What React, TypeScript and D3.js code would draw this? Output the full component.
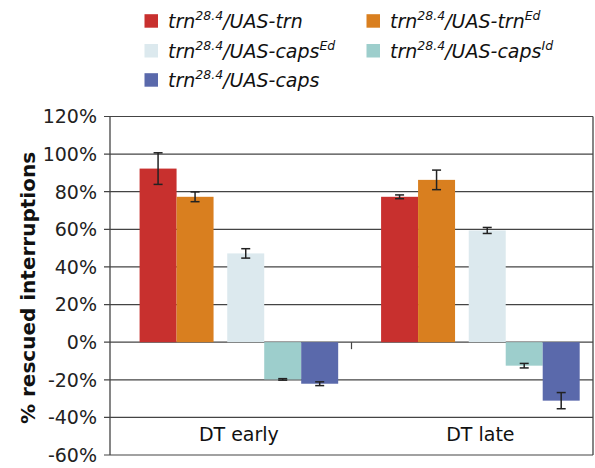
import { useEffect } from "react"
import * as d3 from "d3"

const categories = ["DT early", "DT late"]
const seriesNames = ["UAS-trn", "UAS-trnEd", "UAS-capsEd", "UAS-capsId", "UAS-caps"]
const seriesColors = ["#c8302e", "#d97f1f", "#dce9ee", "#9dcecc", "#5a69ab"]
const valTrn = [92.3, 77.3]
const valTrnEd = [77.3, 86.3]
const valCapsEd = [47.2, 59.4]
const valCapsId = [-19.8, -12.5]
const valCaps = [-22.1, -31.1]
const errTrn = [8.4, 1.0]
const errTrnEd = [2.6, 5.2]
const errCapsEd = [2.5, 1.6]
const errCapsId = [0.4, 1.2]
const errCaps = [1.0, 4.3]
const yTicks = [-60, -40, -20, 0, 20, 40, 60, 80, 100, 120]

// legend text pieces: base name + superscript
const legendLabels = [
  { name: "trn", sup: "" },
  { name: "trn", sup: "Ed" },
  { name: "caps", sup: "Ed" },
  { name: "caps", sup: "Id" },
  { name: "caps", sup: "" },
]

const values = [valTrn, valTrnEd, valCapsEd, valCapsId, valCaps]
const errors = [errTrn, errTrnEd, errCapsEd, errCapsId, errCaps]

export default function App() {
  useEffect(() => {
    document.body.style.margin = "0"
  }, [])

  const width = 595
  const height = 468
  const left = 110
  const right = 593

  const x0 = d3.scaleBand().domain(categories).range([left, right]).padding(0)
  // bar slots inside a group, in bar-width units (gap between 2nd and 3rd)
  const slots = [0.8, 1.8, 3.17, 4.17, 5.17]
  const x1 = d3.scaleLinear().domain([0, 6.53]).range([0, x0.bandwidth()])
  const barW = x1(1) - x1(0)

  const y = d3.scaleLinear().domain([-60, 120]).range([455, 116.5])

  const font = "'DejaVu Sans', sans-serif"
  const legendCols = [144.5, 366.5]
  const legendRows = [27.7, 57.5, 86.7]
  const legendPos = [[0, 0], [1, 0], [0, 1], [1, 1], [0, 2]]

  return (
    <svg width={width} height={height} style={{ display: "block", background: "#fff" }}>
      {/* legend */}
      {legendLabels.map((l, i) => {
        const lx = legendCols[legendPos[i][0]]
        const ly = legendRows[legendPos[i][1]]
        return (
          <g key={seriesNames[i]}>
            <rect x={lx} y={ly - 13.5} width={13.5} height={13.5} fill={seriesColors[i]} />
            <text x={lx + 23.5} y={ly} fontFamily={font} fontStyle="italic" fontSize={19} fill="#111">
              trn
              <tspan fontSize={12.5} dy={-7.5}>28.4</tspan>
              <tspan dy={7.5}>/UAS-{l.name}</tspan>
              {l.sup && <tspan fontSize={12.5} dy={-7.5}>{l.sup}</tspan>}
            </text>
          </g>
        )
      })}

      {/* gridlines */}
      {yTicks.map(t => (
        <line key={t} x1={left - 6} x2={right} y1={y(t)} y2={y(t)} stroke="#444" strokeWidth={1.2} />
      ))}
      {yTicks.map(t => (
        <text key={"l" + t} x={97} y={y(t)} dy="0.36em" textAnchor="end" fontFamily={font} fontSize={19} fill="#222">
          {t}%
        </text>
      ))}
      <line x1={left} x2={left} y1={y(120)} y2={y(-60)} stroke="#444" strokeWidth={1.3} />
      <line x1={right} x2={right} y1={y(120)} y2={y(-60)} stroke="#444" strokeWidth={1.3} />

      {/* category separator ticks on zero line */}
      {categories.slice(1).map(c => (
        <line key={c} x1={x0(c)!} x2={x0(c)!} y1={y(0)} y2={y(0) + 7} stroke="#444" strokeWidth={1.2} />
      ))}

      {/* bars */}
      {categories.map((c, ci) => (
        <g key={c}>
          {values.map((vals, si) => {
            const v = vals[ci]
            const bx = x0(c)! + x1(slots[si])
            return (
              <rect key={si} x={bx} y={Math.min(y(v), y(0))} width={barW}
                height={Math.abs(y(v) - y(0))} fill={seriesColors[si]} />
            )
          })}
          {values.map((vals, si) => {
            const v = vals[ci]
            const e = errors[si][ci]
            const cx = x0(c)! + x1(slots[si]) + barW / 2
            return (
              <g key={"e" + si} stroke="#222" strokeWidth={1.5}>
                <line x1={cx} x2={cx} y1={y(v + e)} y2={y(v - e)} />
                <line x1={cx - 4.5} x2={cx + 4.5} y1={y(v + e)} y2={y(v + e)} />
                <line x1={cx - 4.5} x2={cx + 4.5} y1={y(v - e)} y2={y(v - e)} />
              </g>
            )
          })}
          <text x={x0(c)! + x1((slots[0] + slots[4] + 1) / 2)} y={441} textAnchor="middle"
            fontFamily={font} fontSize={19} fill="#111">{c}</text>
        </g>
      ))}

      {/* y title */}
      <text transform={`translate(35,288) rotate(-90)`} textAnchor="middle" fontFamily={font}
        fontWeight="bold" fontSize={20} fill="#111">% rescued interruptions</text>
    </svg>
  )
}
